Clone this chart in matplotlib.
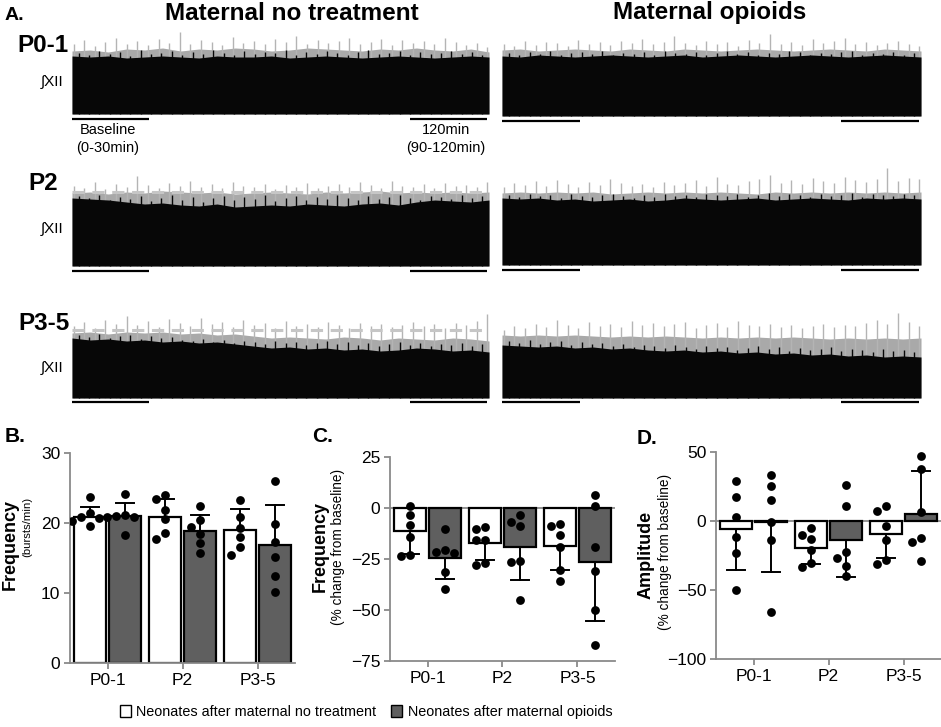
import numpy as np
import matplotlib
matplotlib.use("Agg")
import matplotlib.pyplot as plt
from matplotlib.patches import Patch

plt.rcParams['font.family'] = ['Liberation Sans', 'DejaVu Sans']

W, H = 941, 727

groups = ["P0-1", "P2", "P3-5"]

# ---- panel A: integrated XII traces (heights in px above trace baseline) ----
nt_p01_black = [58, 57, 58, 56, 57, 58, 57, 56, 58, 57, 57, 58, 56, 57, 58, 57, 56, 57, 58, 57, 56, 57, 58, 57]
nt_p01_gray = [63, 64, 62, 65, 64, 66, 63, 65, 64, 66, 65, 63, 64, 66, 65, 64, 63, 65, 64, 66, 64, 63, 65, 62]
nt_p01_peaks = [70, 74, 68, 72, 76, 70, 73, 69, 75, 71, 82, 70, 74, 72, 69, 77, 71, 73, 70, 75,
                72, 78, 70, 74, 71, 73, 76, 70, 72, 75, 69, 74, 71, 73, 70, 76, 72, 69, 71, 67]
nt_p01_dark = [61, 59, 63, 60, 62, 58, 64, 60, 61, 63, 59, 62, 60, 64, 61, 59, 63, 60, 62, 61,
               64, 59, 62, 60, 63, 61, 59, 62, 64, 60, 61, 63, 59, 62, 60, 61, 63, 60, 62, 59]

nt_p2_black = [68, 67, 66, 64, 62, 63, 61, 60, 62, 59, 60, 61, 60, 62, 61, 60, 62, 63, 61, 64, 66, 65, 64, 66]
nt_p2_gray = [73, 74, 72, 74, 73, 75, 74, 73, 74, 72, 73, 74, 73, 72, 74, 73, 74, 75, 73, 74, 73, 74, 73, 74]
nt_p2_peaks = [80, 78, 84, 77, 82, 79, 90, 81, 78, 83, 80, 85, 79, 82, 78, 84, 80, 79, 82, 77,
               81, 79, 83, 78, 80, 82, 79, 84, 81, 78, 85, 80, 79, 82, 78, 83, 80, 81, 79, 84]
nt_p2_dark = [70, 68, 71, 66, 69, 67, 70, 65, 68, 71, 66, 69, 64, 68, 70, 66, 69, 67, 71, 65,
              68, 70, 66, 69, 67, 71, 68, 66, 70, 67, 69, 71, 68, 66, 70, 69, 67, 71, 68, 70]

nt_p35_black = [60, 58, 59, 57, 58, 56, 57, 55, 56, 54, 52, 50, 51, 49, 50, 48, 49, 47, 48, 50, 49, 47, 48, 46]
nt_p35_gray = [65, 66, 64, 66, 65, 66, 64, 65, 63, 64, 62, 60, 61, 60, 59, 61, 60, 58, 60, 59, 58, 60, 59, 57]
nt_p35_peaks = [72, 76, 70, 78, 74, 82, 73, 77, 71, 79, 75, 72, 80, 74, 76, 71, 78, 73, 75, 70,
                77, 72, 74, 71, 76, 73, 70, 75, 72, 74, 71, 73, 76, 72, 74, 70, 75, 73, 77, 84]
nt_p35_dark = [63, 61, 64, 60, 62, 63, 59, 62, 60, 61, 58, 57, 59, 56, 58, 55, 57, 56, 54, 57,
               55, 56, 53, 55, 57, 54, 56, 53, 55, 52, 54, 56, 53, 55, 52, 54, 53, 55, 52, 54]

op_p01_black = [60, 59, 61, 60, 59, 60, 61, 60, 59, 60, 61, 59, 60, 61, 60, 59, 60, 61, 60, 59, 60, 61, 60, 59]
op_p01_gray = [66, 67, 65, 66, 67, 66, 65, 67, 66, 65, 67, 66, 65, 66, 67, 66, 65, 66, 67, 66, 65, 67, 66, 65]
op_p01_peaks = [72, 70, 75, 71, 74, 73, 70, 76, 72, 74, 71, 75, 73, 77, 72, 74, 80, 73, 71, 75,
                72, 74, 70, 76, 73, 82, 72, 74, 71, 77, 73, 75, 78, 72, 74, 71, 73, 75, 72, 70]
op_p01_dark = [63, 61, 64, 62, 65, 61, 63, 64, 62, 65, 61, 63, 62, 64, 61, 65, 63, 62, 64, 61,
               63, 65, 62, 64, 61, 63, 62, 65, 64, 61, 63, 62, 64, 65, 61, 63, 62, 64, 61, 63]

op_p2_black = [67, 66, 67, 65, 66, 64, 65, 66, 64, 65, 67, 66, 65, 66, 67, 65, 66, 67, 66, 65, 67, 66, 67, 66]
op_p2_gray = [72, 73, 72, 73, 72, 73, 71, 72, 73, 72, 73, 72, 73, 72, 71, 73, 72, 73, 72, 73, 72, 73, 72, 73]
op_p2_peaks = [78, 82, 80, 84, 79, 85, 81, 78, 83, 80, 86, 82, 79, 81, 78, 83, 80, 82, 85, 79,
               88, 81, 80, 84, 86, 90, 82, 85, 81, 87, 84, 82, 88, 85, 83, 86, 97, 84, 87, 86]
op_p2_dark = [70, 68, 71, 69, 70, 67, 71, 69, 68, 70, 71, 69, 67, 70, 68, 71, 69, 70, 68, 71,
              70, 69, 71, 68, 70, 72, 69, 71, 70, 68, 71, 69, 70, 72, 68, 71, 70, 69, 71, 70]

op_p35_black = [53, 52, 51, 52, 50, 51, 49, 50, 48, 47, 48, 46, 47, 45, 46, 44, 45, 43, 44, 42, 43, 41, 42, 41]
op_p35_gray = [63, 62, 63, 62, 63, 62, 61, 62, 61, 62, 61, 60, 61, 60, 61, 60, 61, 60, 59, 60, 59, 60, 59, 60]
op_p35_peaks = [68, 72, 70, 74, 71, 78, 73, 70, 76, 72, 74, 71, 77, 73, 75, 72, 74, 76, 70, 73,
                75, 71, 77, 73, 72, 74, 71, 73, 70, 72, 74, 71, 73, 72, 75, 78, 74, 85, 76, 72]
op_p35_dark = [57, 55, 58, 54, 56, 57, 53, 56, 54, 55, 52, 54, 51, 53, 52, 50, 53, 51, 49, 52,
               50, 51, 48, 50, 52, 49, 51, 47, 50, 48, 49, 51, 47, 49, 48, 46, 49, 47, 48, 46]

# ---- panel B: frequency (bursts/min) ----
freq_nt_mean = [20.8, 20.8, 19.0]
freq_nt_sd = [1.5, 2.7, 3.0]
freq_op_mean = [21.0, 18.9, 16.8]
freq_op_sd = [1.9, 2.3, 5.8]
freq_nt_pts = [[23.7, 21.4, 20.8, 20.3, 19.6, 20.7],
               [24.0, 23.4, 21.9, 20.6, 18.6, 17.7],
               [23.3, 20.8, 19.3, 18.0, 16.6, 15.5]]
freq_op_pts = [[24.1, 21.1, 21.0, 20.9, 20.8, 18.3],
               [22.4, 20.4, 19.5, 18.4, 17.2, 15.7],
               [26.0, 19.8, 17.3, 15.1, 12.4, 10.2]]

# ---- panel C: frequency, % change from baseline ----
fchg_nt_mean = [-11.5, -17.4, -18.5]
fchg_nt_sd = [11.0, 8.2, 12.0]
fchg_op_mean = [-24.4, -19.2, -26.4]
fchg_op_sd = [10.2, 16.0, 28.8]
fchg_nt_pts = [[0.8, -3.4, -8.2, -14.4, -23.3, -23.1],
               [-10.3, -9.3, -15.6, -15.6, -28.0, -27.0],
               [-8.7, -7.7, -13.4, -18.9, -30.3, -35.7]]
fchg_op_pts = [[-10.3, -21.8, -20.8, -22.1, -31.6, -39.8],
               [-6.9, -3.4, -9.0, -25.9, -26.7, -45.1],
               [6.4, 0.8, -19.2, -30.7, -50.0, -67.0]]

# ---- panel D: amplitude, % change from baseline ----
amp_nt_mean = [-5.6, -19.8, -9.4]
amp_nt_sd = [29.7, 11.1, 17.6]
amp_op_mean = [-0.5, -13.8, 5.3]
amp_op_sd = [36.5, 27.0, 31.2]
amp_nt_pts = [[29.0, 17.6, 2.9, -11.6, -23.4, -50.2],
              [-10.4, -21.3, -33.3, -4.8, -13.0, -30.4],
              [7.0, 10.6, -3.4, -13.5, -30.9, -28.0]]
amp_op_pts = [[33.1, 25.6, 15.5, -1.0, -13.5, -66.0],
              [26.1, 10.6, -26.8, -22.2, -32.9, -40.1],
              [47.3, 37.7, 6.3, -12.1, -15.0, -29.2]]

GRAY_BAR = '#5f5f5f'
AXIS_GRAY = '#8a8a8a'
TRACE_BLACK = '#070707'


def rect(x0, y0, x1, y1):
    return [x0 / W, 1 - y1 / H, (x1 - x0) / W, (y1 - y0) / H]


def ftext(x, y, s, **kw):
    fig.text(x / W, 1 - y / H, s, **kw)


fig = plt.figure(figsize=(W / 100, H / 100), dpi=100)


def draw_trace(x0, x1, base, black, gray, peaks, dark, thresh=None):
    ax = fig.add_axes(rect(x0, base - 100, x1, base + 8))
    ax.set_xlim(0, 1)
    ax.set_ylim(-8, 100)
    ax.axis('off')
    xb = np.linspace(0, 1, len(black))
    xg = np.linspace(0, 1, len(gray))
    ax.fill_between(xg, 0, gray, color='#a9a9a9', lw=0, zorder=1)
    ax.vlines(np.linspace(0.004, 0.996, len(peaks)), 0, peaks, color='#b4b4b4', lw=1.0, zorder=2)
    if thresh is not None:
        ax.axhline(thresh, color='#c6c6c6', lw=2.2, ls=(0, (4, 2.5)), zorder=2.5)
    ax.fill_between(xb, 0, black, color=TRACE_BLACK, lw=0, zorder=3)
    ax.vlines(np.linspace(0.016, 0.984, len(dark)), 0, dark, color=TRACE_BLACK, lw=1.0, zorder=3)
    for a, b in [(0.0, 0.185), (0.81, 0.995)]:
        ax.plot([a, b], [-4.5, -4.5], color='black', lw=1.6, clip_on=False,
                solid_capstyle='butt')
    return ax


LX0, LX1, RX0, RX1 = 72, 489, 502, 921
draw_trace(LX0, LX1, 114, nt_p01_black, nt_p01_gray, nt_p01_peaks, nt_p01_dark)
draw_trace(LX0, LX1, 266, nt_p2_black, nt_p2_gray, nt_p2_peaks, nt_p2_dark, thresh=74)
draw_trace(LX0, LX1, 398, nt_p35_black, nt_p35_gray, nt_p35_peaks, nt_p35_dark, thresh=68)
draw_trace(RX0, RX1, 116, op_p01_black, op_p01_gray, op_p01_peaks, op_p01_dark)
draw_trace(RX0, RX1, 265, op_p2_black, op_p2_gray, op_p2_peaks, op_p2_dark)
draw_trace(RX0, RX1, 398, op_p35_black, op_p35_gray, op_p35_peaks, op_p35_dark)

ftext(5, 15, "A.", fontsize=14, fontweight='bold', va='center')
ftext(292, 14, "Maternal no treatment", fontsize=17.5, fontweight='bold', ha='center', va='center')
ftext(710, 13, "Maternal opioids", fontsize=17.5, fontweight='bold', ha='center', va='center')
for lab, lx, ly in [("P0-1", 17, 46), ("P2", 28, 184), ("P3-5", 18, 324)]:
    ftext(lx, ly, lab, fontsize=17.5, fontweight='bold', va='center')
for ly in [82, 229, 368]:
    ftext(64, ly, "\u222bXII", fontsize=11, ha='right', va='center')
ftext(108, 139, "Baseline\n(0-30min)", fontsize=10.5, ha='center', va='center', linespacing=1.35)
ftext(446, 139, "120min\n(90-120min)", fontsize=10.5, ha='center', va='center', linespacing=1.35)


def swarm(vals, px_per_unit, step=9.0, dmin=8.2):
    placed = []
    offs = np.zeros(len(vals))
    for i in np.argsort(vals)[::-1]:
        y = vals[i] * px_per_unit
        for k in [0, -1, 1, -2, 2, -3, 3]:
            x = k * step
            if all((x - a) ** 2 + (y - b) ** 2 >= dmin ** 2 for a, b in placed):
                break
        placed.append((x, y))
        offs[i] = x
    return offs


def bar_panel(box, ylim, yticks, nt_mean, nt_sd, nt_pts, op_mean, op_sd, op_pts, zero_line):
    ax = fig.add_axes(rect(*box))
    wpx = box[2] - box[0]
    hpx = box[3] - box[1]
    px_x = 3.0 / wpx
    px_y = hpx / (ylim[1] - ylim[0])
    x = np.arange(3)
    off, bw, cap = 0.233, 0.43, 0.12
    ax.bar(x - off, nt_mean, bw, color='white', edgecolor='black', lw=1.6, zorder=2)
    ax.bar(x + off, op_mean, bw, color=GRAY_BAR, edgecolor='black', lw=1.6, zorder=2)
    for xs, means, sds in [(x - off, nt_mean, nt_sd), (x + off, op_mean, op_sd)]:
        for xi, m, s in zip(xs, means, sds):
            end = m + s if m >= 0 else m - s
            ax.plot([xi, xi], [m, end], color='black', lw=1.4, zorder=3)
            ax.plot([xi - cap, xi + cap], [end, end], color='black', lw=1.4, zorder=3)
    for xs, pts in [(x - off, nt_pts), (x + off, op_pts)]:
        for xi, vals in zip(xs, pts):
            vals = np.array(vals)
            ox = swarm(vals, px_y) * px_x
            ax.scatter(xi + ox, vals, s=40, color='black', zorder=4, lw=0)
    if zero_line:
        ax.axhline(0, color=AXIS_GRAY, lw=1.3, zorder=1)
    ax.set_xlim(-0.5, 2.5)
    ax.set_ylim(*ylim)
    ax.set_yticks(yticks)
    ax.set_xticks(x)
    ax.set_xticklabels(groups)
    for sp in ['top', 'right']:
        ax.spines[sp].set_visible(False)
    for sp in ['left', 'bottom']:
        ax.spines[sp].set_color(AXIS_GRAY)
        ax.spines[sp].set_linewidth(1.3)
    ax.tick_params(colors=AXIS_GRAY, labelcolor='black', labelsize=12.5,
                   width=1.3, length=4, pad=3)
    return ax


bar_panel((70, 453, 295, 663), (0, 30), [0, 10, 20, 30],
          freq_nt_mean, freq_nt_sd, freq_nt_pts, freq_op_mean, freq_op_sd, freq_op_pts, False)
bar_panel((390, 457, 615, 661), (-75, 25), [-75, -50, -25, 0, 25],
          fchg_nt_mean, fchg_nt_sd, fchg_nt_pts, fchg_op_mean, fchg_op_sd, fchg_op_pts, True)
bar_panel((716, 452, 941, 659), (-100, 50), [-100, -50, 0, 50],
          amp_nt_mean, amp_nt_sd, amp_nt_pts, amp_op_mean, amp_op_sd, amp_op_pts, True)

ftext(5, 437, "B.", fontsize=15, fontweight='bold', va='center')
ftext(312, 437, "C.", fontsize=15, fontweight='bold', va='center')
ftext(637, 438, "D.", fontsize=15, fontweight='bold', va='center')

ftext(10, 545, "Frequency", fontsize=13, fontweight='bold', rotation=90, ha='center', va='center')
ftext(27, 527, "(bursts/min)", fontsize=8.2, rotation=90, ha='center', va='center')
ftext(320, 547, "Frequency", fontsize=13, fontweight='bold', rotation=90, ha='center', va='center')
ftext(338, 547, "(% change from baseline)", fontsize=9.8, rotation=90, ha='center', va='center')
ftext(646, 555, "Amplitude", fontsize=13, fontweight='bold', rotation=90, ha='center', va='center')
ftext(665, 552, "(% change from baseline)", fontsize=9.8, rotation=90, ha='center', va='center')

handles = [Patch(facecolor='white', edgecolor='black', lw=1.0),
           Patch(facecolor=GRAY_BAR, edgecolor='black', lw=1.0)]
fig.legend(handles, ["Neonates after maternal no treatment", "Neonates after maternal opioids"],
           loc='center', bbox_to_anchor=(366 / W, 1 - 712 / H), ncol=2, frameon=False,
           fontsize=10.4, handlelength=0.75, handleheight=0.9, handletextpad=0.4,
           columnspacing=1.0)

fig.savefig("out.png", dpi=100)
